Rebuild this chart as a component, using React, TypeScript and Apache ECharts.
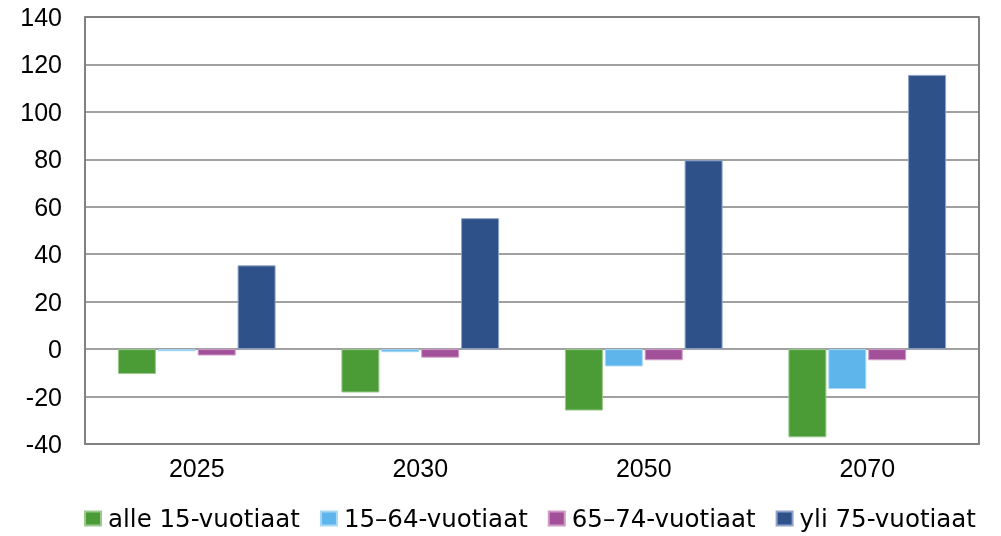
import React, { useEffect, useRef } from "react";
import * as echarts from "echarts";

const categories = ["2025", "2030", "2050", "2070"];
const seriesNames = ["alle 15-vuotiaat", "15–64-vuotiaat", "65–74-vuotiaat", "yli 75-vuotiaat"];
const alle15 = [-10.5, -18.3, -25.9, -37.2];
const age15to64 = [-0.9, -1.3, -7.3, -16.8];
const age65to74 = [-2.7, -3.6, -4.7, -4.7];
const yli75 = [35.3, 55.2, 79.6, 115.6];
const yTicks = [-40, 140, 20];

const colors = ["#4B9B37", "#5DB5EB", "#A3509A", "#2F5189"];
const borders = ["#9CC98F", "#A9D8F4", "#CF9CC8", "#8FA3C8"];

export default function App() {
  const ref = useRef<HTMLDivElement>(null);
  useEffect(() => {
    if (!ref.current) return;
    const chart = echarts.init(ref.current, undefined, { renderer: "svg" });
    const data = [alle15, age15to64, age65to74, yli75];
    chart.setOption({
      animation: false,
      textStyle: { fontFamily: "Liberation Sans, Arial, sans-serif" },
      grid: {
        left: 85,
        right: 22,
        top: 17,
        bottom: 92,
        show: true,
        borderColor: "#5a5a5a",
        borderWidth: 1.5,
      },
      legend: {
        top: 506,
        left: 84,
        padding: 0,
        itemWidth: 16,
        itemHeight: 14,
        itemGap: 20,
        icon: "rect",
        textStyle: { fontSize: 24.5, color: "#000", fontFamily: "DejaVu Sans, sans-serif", padding: [0, 0, 0, 2] },
        data: seriesNames,
      },
      xAxis: {
        type: "category",
        data: categories,
        axisLine: { onZero: false, lineStyle: { color: "#808080", width: 2 } },
        axisTick: { show: false },
        axisLabel: { fontSize: 25, color: "#000", margin: 11 },
      },
      yAxis: {
        type: "value",
        min: yTicks[0],
        max: yTicks[1],
        interval: yTicks[2],
        axisLine: { show: true, lineStyle: { color: "#808080", width: 1.5 } },
        axisTick: { show: false },
        axisLabel: { fontSize: 25, color: "#000", margin: 23 },
        splitLine: { lineStyle: { color: "#808080", width: 1.5 } },
      },
      series: seriesNames.map((name, i) => ({
        name,
        type: "bar",
        data: data[i],
        barWidth: 38,
        barGap: "5%",
        itemStyle: { color: colors[i], borderColor: borders[i], borderWidth: 1 },
      })),
    });
    return () => chart.dispose();
  }, []);
  return <div ref={ref} style={{ position: "fixed", left: 0, top: 0, width: 1001, height: 536 }} />;
}
